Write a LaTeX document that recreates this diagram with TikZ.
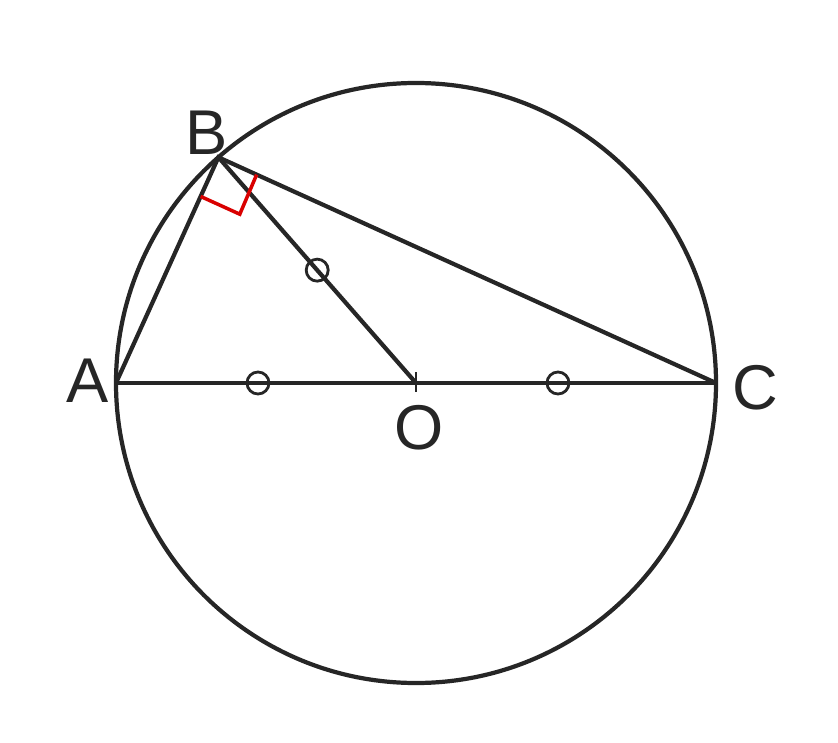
\documentclass[tikz,border=0pt]{standalone}
\usepackage{fontspec}
\setmainfont{Liberation Sans}
\usetikzlibrary{calc}

\begin{document}
\begin{tikzpicture}
  \useasboundingbox (-4.16,-3.59) rectangle (4.22,3.83);
  \tikzset{ln/.style={line width=1.2pt,color=black!85},
    eqmark/.style={line width=0.8pt,color=black!85},
    lbl/.style={font=\fontsize{18}{18}\selectfont,text=black!85}}
  \coordinate (O) at (0,0);
  \coordinate (A) at (-3,0);
  \coordinate (C) at (3,0);
  \coordinate (B) at (131.2:3);
  \draw[ln] (O) circle [radius=3];
  \draw[ln] (A) -- (C);
  \draw[ln] (A) -- (B) -- (C);
  \draw[ln] (B) -- (O);
  % right angle at B
  \draw[line width=1pt,color=red!85!black]
    ($(B)!0.43cm!(A)$) -- ($(B)!0.43cm!(A)!0.43cm!90:(A)$) -- ($(B)!0.42cm!(C)$);
  % equal marks
  \draw[eqmark] (-1.58,0) circle [radius=0.11];
  \draw[eqmark] (1.42,0) circle [radius=0.11];
  \draw[eqmark] ($(B)!0.5!(O)$) circle [radius=0.11];
  \draw[eqmark] (0,0.11) -- (0,-0.09);
  \node[lbl] (labA) at (-3.28,0.02) {A};
  \node[lbl] (labB) at (-2.09,2.50) {B};
  \node[lbl] (labC) at (3.39,-0.05) {C};
  \node[lbl] (labO) at (0.03,-0.45) {O};
\end{tikzpicture}
\end{document}
